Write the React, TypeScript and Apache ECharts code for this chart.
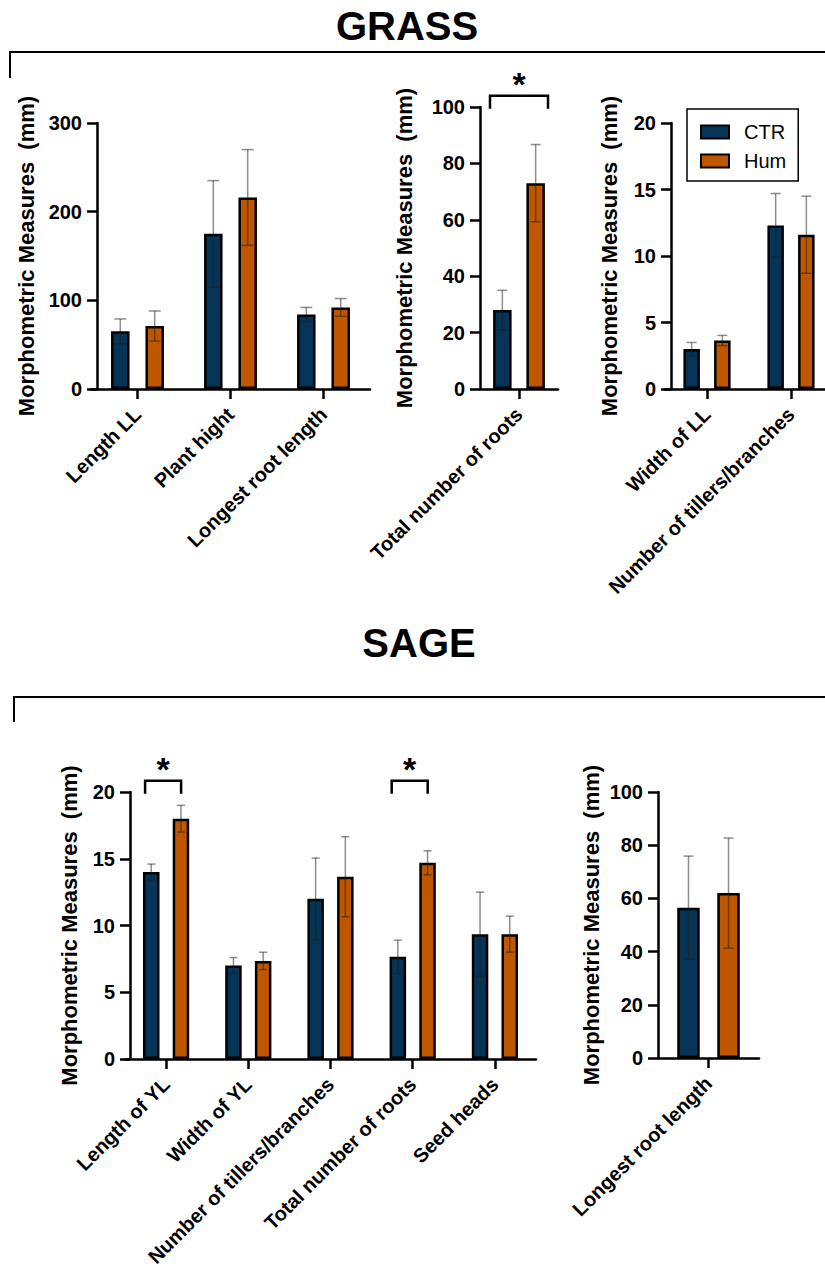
import React, { useEffect, useRef } from "react";
import * as echarts from "echarts";

const FONT = "'Liberation Sans', Arial, Helvetica, sans-serif";
const SERIES_NAMES = ["CTR", "Hum"];
const COLORS = ["#053456", "#bf5700"];
const AXIS_TITLE = "Morphometric Measures  (mm)";

// ---- GRASS ----
const grassACategories = ["Length LL", "Plant hight", "Longest root length"];
const grassACtrMean = [65, 175, 84];
const grassACtrSd = [14, 60, 8];
const grassAHumMean = [71, 216, 92];
const grassAHumSd = [17, 54, 10];

const grassBCategories = ["Total number of roots"];
const grassBCtrMean = [28];
const grassBCtrSd = [7];
const grassBHumMean = [73];
const grassBHumSd = [13.7];
const grassBSignif = [[0, 104]];

const grassCCategories = ["Width of LL", "Number of tillers/branches"];
const grassCCtrMean = [3.0, 12.3];
const grassCCtrSd = [0.5, 2.4];
const grassCHumMean = [3.65, 11.6];
const grassCHumSd = [0.38, 2.9];

// ---- SAGE ----
const sageACategories = ["Length of YL", "Width of YL", "Number of tillers/branches", "Total number of roots", "Seed heads"];
const sageACtrMean = [14.0, 7.0, 12.0, 7.65, 9.35];
const sageACtrSd = [0.6, 0.6, 3.05, 1.25, 3.15];
const sageAHumMean = [18.0, 7.35, 13.65, 14.7, 9.35];
const sageAHumSd = [1.0, 0.65, 3.0, 0.9, 1.35];
const sageASignif = [[0, 20.85], [3, 20.85]];

const sageBCategories = ["Longest root length"];
const sageBCtrMean = [56.5];
const sageBCtrSd = [19.4];
const sageBHumMean = [62];
const sageBHumSd = [20.7];

// y-axis ranges
const yMax = [300, 100, 20, 20, 100];
const yInterval = [100, 20, 5, 5, 20];

const panels = [
  { cats: grassACategories, ctr: grassACtrMean, ctrSd: grassACtrSd, hum: grassAHumMean, humSd: grassAHumSd, sig: [] as number[][] },
  { cats: grassBCategories, ctr: grassBCtrMean, ctrSd: grassBCtrSd, hum: grassBHumMean, humSd: grassBHumSd, sig: grassBSignif },
  { cats: grassCCategories, ctr: grassCCtrMean, ctrSd: grassCCtrSd, hum: grassCHumMean, humSd: grassCHumSd, sig: [] as number[][] },
  { cats: sageACategories, ctr: sageACtrMean, ctrSd: sageACtrSd, hum: sageAHumMean, humSd: sageAHumSd, sig: sageASignif },
  { cats: sageBCategories, ctr: sageBCtrMean, ctrSd: sageBCtrSd, hum: sageBHumMean, humSd: sageBHumSd, sig: [] as number[][] },
];

// layout (pixels)
const layouts = [
  { left: 91, top: 123, width: 279, height: 266, yOffset: -6, nameGap: 60, bw: 18.5, gap: 0.86, cap: 6, sigHalf: 29, sigShift: 0 },
  { left: 480, top: 107, width: 78, height: 282, yOffset: 0, nameGap: 65, bw: 18.5, gap: 0.8, cap: 5, sigHalf: 29, sigShift: 0 },
  { left: 665, top: 123, width: 168, height: 266, yOffset: -6, nameGap: 51, bw: 16.5, gap: 0.86, cap: 5, sigHalf: 29, sigShift: 0 },
  { left: 125, top: 792, width: 411, height: 267, yOffset: -5, nameGap: 50, bw: 16.5, gap: 0.8, cap: 4, sigHalf: 18, sigShift: -3 },
  { left: 658, top: 792, width: 101, height: 266, yOffset: 0, nameGap: 56, bw: 22.5, gap: 0.78, cap: 5, sigHalf: 20, sigShift: 0 },
];

const ERR_COLOR = "rgba(30,30,30,0.5)";

function buildOption() {
  const grid: any[] = [];
  const xAxis: any[] = [];
  const yAxis: any[] = [];
  const series: any[] = [];

  panels.forEach((p, i) => {
    const L = layouts[i];
    grid.push({ left: L.left, top: L.top, width: L.width, height: L.height, containLabel: false, outerBoundsMode: "none" });
    xAxis.push({
      type: "category",
      gridIndex: i,
      data: p.cats,
      axisLine: { show: true, lineStyle: { color: "#000", width: 2.5 } },
      axisTick: { show: true, alignWithLabel: true, length: 10, lineStyle: { color: "#000", width: 2.5 } },
      axisLabel: { interval: 0, rotate: 45, margin: 22, color: "#000", fontSize: 20, fontWeight: "bold", fontFamily: FONT },
      splitLine: { show: false },
    });
    yAxis.push({
      type: "value",
      gridIndex: i,
      min: 0,
      max: yMax[i],
      interval: yInterval[i],
      offset: L.yOffset,
      name: AXIS_TITLE,
      nameLocation: "middle",
      nameRotate: 90,
      nameGap: L.nameGap,
      nameMoveOverlap: false,
      nameTextStyle: { color: "#000", fontSize: 22, fontWeight: "bold", fontFamily: FONT },
      axisLine: { show: true, lineStyle: { color: "#000", width: 2.5 } },
      axisTick: { show: true, length: 10, lineStyle: { color: "#000", width: 2.5 } },
      axisLabel: { margin: 15, color: "#000", fontSize: 20, fontWeight: "bold", fontFamily: FONT },
      splitLine: { show: false },
    });

    const sep = L.bw * (1 + L.gap);
    const groups = [
      { name: SERIES_NAMES[0], mean: p.ctr, sd: p.ctrSd, color: COLORS[0], off: -sep / 2 },
      { name: SERIES_NAMES[1], mean: p.hum, sd: p.humSd, color: COLORS[1], off: sep / 2 },
    ];
    groups.forEach((g) => {
      series.push({
        type: "bar",
        name: g.name,
        xAxisIndex: i,
        yAxisIndex: i,
        data: g.mean,
        barWidth: L.bw,
        barGap: Math.round(L.gap * 100) + "%",
        itemStyle: { color: g.color, borderColor: "#000", borderWidth: 2.5 },
        z: 2,
      });
    });
    groups.forEach((g) => {
      series.push({
        type: "custom",
        xAxisIndex: i,
        yAxisIndex: i,
        z: 5,
        silent: true,
        clip: false,
        data: g.mean.map((m, k) => [k, m - g.sd[k], m + g.sd[k]]),
        renderItem: (params: any, api: any) => {
          const c = api.value(0);
          const lo = api.coord([c, api.value(1)]);
          const hi = api.coord([c, api.value(2)]);
          const x = lo[0] + g.off;
          const st = { stroke: ERR_COLOR, lineWidth: 1.5 };
          return {
            type: "group",
            children: [
              { type: "line", shape: { x1: x, y1: lo[1], x2: x, y2: hi[1] }, style: st },
              { type: "line", shape: { x1: x - L.cap, y1: hi[1], x2: x + L.cap, y2: hi[1] }, style: st },
              { type: "line", shape: { x1: x - L.cap, y1: lo[1], x2: x + L.cap, y2: lo[1] }, style: st },
            ],
          };
        },
      });
    });
    if (p.sig.length) {
      series.push({
        type: "custom",
        xAxisIndex: i,
        yAxisIndex: i,
        z: 6,
        silent: true,
        clip: false,
        data: p.sig,
        renderItem: (params: any, api: any) => {
          const pt = api.coord([api.value(0), api.value(1)]);
          const cx = pt[0] + L.sigShift;
          const y = pt[1];
          const leg = 13;
          return {
            type: "group",
            children: [
              {
                type: "polyline",
                shape: { points: [[cx - L.sigHalf, y + leg], [cx - L.sigHalf, y], [cx + L.sigHalf, y], [cx + L.sigHalf, y + leg]] },
                style: { stroke: "#000", lineWidth: 2.5, fill: null },
              },
              {
                type: "text",
                x: cx,
                y: y - 12,
                style: { text: "*", fontSize: 34, fontWeight: "bold", fill: "#000", align: "center", verticalAlign: "middle", fontFamily: FONT },
              },
            ],
          };
        },
      });
    }
  });

  return {
    animation: false,
    backgroundColor: "#fff",
    textStyle: { fontFamily: FONT },
    grid,
    xAxis,
    yAxis,
    series,
    legend: {
      data: SERIES_NAMES,
      orient: "vertical",
      left: 687,
      top: 109,
      itemWidth: 28,
      itemHeight: 13,
      itemGap: 9,
      padding: [13, 12, 10, 13],
      borderColor: "#000",
      borderWidth: 1.5,
      backgroundColor: "#fff",
      icon: "rect",
      selectedMode: false,
      textStyle: { fontSize: 20, color: "#000", fontFamily: FONT, padding: [0, 0, 0, 10] },
    },
    graphic: [
      {
        type: "text",
        x: 407,
        y: 26,
        style: { text: "GRASS", fontSize: 40, fontWeight: "bold", fill: "#000", align: "center", verticalAlign: "middle", fontFamily: FONT },
      },
      {
        type: "polyline",
        shape: { points: [[10, 78], [10, 52], [830, 52]] },
        style: { stroke: "#000", lineWidth: 2, fill: null },
      },
      {
        type: "text",
        x: 419,
        y: 643,
        style: { text: "SAGE", fontSize: 40, fontWeight: "bold", fill: "#000", align: "center", verticalAlign: "middle", fontFamily: FONT },
      },
      {
        type: "polyline",
        shape: { points: [[14, 722], [14, 697], [830, 697]] },
        style: { stroke: "#000", lineWidth: 2, fill: null },
      },
    ],
  };
}

export default function App() {
  const ref = useRef<HTMLDivElement>(null);
  useEffect(() => {
    document.body.style.margin = "0";
    if (!ref.current) return;
    const chart = echarts.init(ref.current, undefined, { renderer: "svg" });
    chart.setOption(buildOption() as any);
    return () => chart.dispose();
  }, []);
  return <div ref={ref} style={{ position: "absolute", left: 0, top: 0, width: 825, height: 1269, overflow: "hidden" }} />;
}
